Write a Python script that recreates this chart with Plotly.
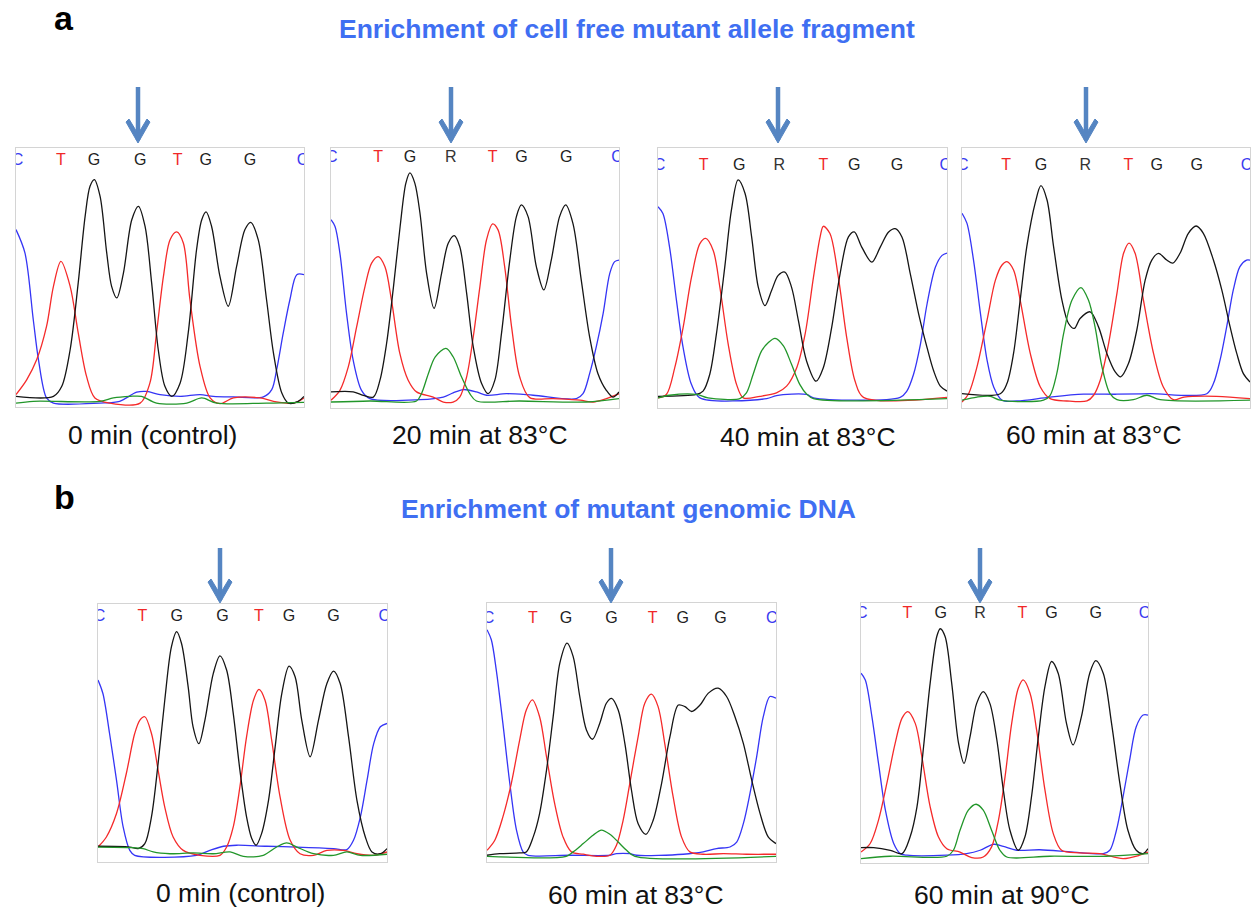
import plotly.graph_objects as go

W, H = 1253, 913

# ---------------- data (x: position across window 0-100, y: signal 0-100) ----------------
A1_BLUE = [(0,68.5),(3.1,59.5),(6.0,33.7),(7.8,18.3),(10.6,3.5),(13,1.5),(29,1.5),(36,2.2),(41.9,5.7),(45.4,6),(50,4.8),(57,4.1),(63.9,4.8),(68.5,4.1),(75.5,3.9),(85.9,3.9),(88.8,6.7),(90.5,14.4),(92.8,28.6),(95.1,41.4),(97.5,51.1),(100,51.1)]
A1_RED = [(0,4.8),(3.7,10.5),(7.2,18.3),(10.6,31.1),(13,46.6),(15.6,56.2),(18.8,46.6),(21.6,28.6),(24.5,11.8),(27.4,3.5),(32.6,1.5),(43.1,1.5),(46.5,9.3),(48.8,28.6),(51.2,50.5),(53.5,64.6),(55.8,67.6),(58.1,63.3),(60.4,41.4),(63.9,15.7),(67.4,3.5),(70.8,1.3),(75.5,3.5),(84.7,3.5),(89.4,2.2),(96.3,1.5),(100,3.5)]
A1_BLACK = [(0,4.1),(13,4.1),(15.9,8),(18.8,22.1),(21.6,47.9),(24,73.6),(25.7,85.2),(27.2,87.8),(29.2,81.3),(31.5,59.5),(33.2,46.6),(35,42.1),(37.3,51.7),(40.2,72.3),(42.5,77.5),(44.8,69.8),(47.1,47.9),(49.4,22.1),(51.7,8),(54.1,4.1),(57,9.3),(59.8,28.6),(62.7,60.8),(64.5,72.3),(66,75.3),(67.9,69.8),(70.8,50.5),(73.7,38.9),(76.6,54.3),(79.5,68.5),(81.5,71.3),(84.1,64.6),(87,41.4),(89.4,20.8),(92.3,5.4),(94.6,1.5),(98,2.2),(100,4.1)]
A1_GREEN = [(0,1.5),(6,2.2),(29.2,2.2),(33.8,3.5),(39.6,4.1),(43.6,4.1),(48.8,1.5),(59.3,1.5),(64.5,3.5),(69.7,1.5),(87,1.5),(100,1.8)]

A2_BLUE = [(0,72.4),(1.4,69.8),(3.1,59.5),(5.4,36.4),(7.7,18.4),(10.6,6.8),(13.5,3.6),(30.9,3.2),(39,4.2),(42.4,5.8),(45.9,7.1),(50.5,6.2),(54,4.9),(60.9,5.5),(70.2,4.9),(85.2,3.6),(87.5,5.5),(89.8,13.2),(92.1,23.5),(94.5,36.4),(96.8,51.8),(98.5,56.3),(100,56.9)]
A2_RED = [(0,3),(3.1,6.8),(6,15.8),(8.9,31.2),(11.8,46.7),(14.1,55.7),(16.4,58.2),(18.7,54.4),(21,41.5),(23.9,21),(26.8,10.7),(29.7,6.2),(35.5,4.2),(39,2.3),(42.4,2.3),(44.7,4.2),(47.1,12),(49.4,27.4),(51.7,46.7),(54,64.7),(56.1,70.8),(58,68.5),(60.3,54.4),(62.7,31.2),(65.5,12),(69,4),(77.1,3.6),(86.4,3),(91,2.3),(95.6,3.6),(100,5.5)]
A2_BLACK = [(0,6.2),(7.7,6.2),(11.2,4.9),(14.7,4.2),(17,10.7),(19.3,24.8),(21.7,46.7),(24,69.8),(26,86.5),(27.4,90.4),(29.1,86.5),(30.9,74.9),(33.2,51.8),(35.8,38.3),(38.4,51.8),(40.7,63.4),(42.8,66.3),(44.7,62.1),(47.1,44.1),(49.4,23.5),(52.3,9.4),(54.6,5.5),(56.9,10.7),(59.2,28.7),(62.1,57),(64.4,73.7),(66.1,78.1),(68.4,73.7),(71.3,54.4),(73.9,45.4),(76.5,57),(79.4,73.7),(81.5,78.1),(84,71),(86.9,49.2),(89.8,27.4),(92.7,13.2),(95.6,6.8),(97.9,4.2),(100,6.2)]
A2_GREEN = [(0,2.3),(13.5,2.7),(29.7,2.7),(31.4,5.5),(33.8,13.2),(36.2,19.7),(39.9,22.9),(42.4,19.7),(45.3,12),(48.2,5.5),(50.5,2.7),(65.5,2.7),(88.7,2.3),(100,3.6)]

A3_BLUE = [(0,77.4),(1.7,74.8),(4,61.9),(6.4,41.3),(8.7,23.2),(11.6,9),(14.5,3.9),(37.6,3.6),(41,4.8),(51.4,5.2),(53.8,3.9),(83.8,4.1),(86.1,6.5),(88.4,12.9),(90.8,24.5),(93.1,40),(96,54.2),(98.3,58.7),(100,59.6)]
A3_RED = [(0,3.9),(2.9,5.2),(5.8,15.5),(8.7,31),(11.6,50.3),(14.5,63.2),(16.5,65.2),(19.1,60.6),(21.4,46.5),(24.3,24.5),(27.2,9),(29.5,3.9),(35.3,4.5),(41,5.8),(44.5,8.4),(48,15.5),(50.9,28.4),(53.8,50.3),(56.1,65.8),(57.2,69.9),(59.5,67.1),(62.4,50.3),(65.3,27.1),(68.2,10.3),(71.1,4.1),(100,4.1)]
A3_BLACK = [(0,4.5),(13.3,5.2),(15.6,6.5),(17.9,12.9),(20.2,28.4),(23.1,54.2),(25.4,76.1),(27.7,87.7),(30.1,82.6),(32.4,65.8),(34.7,46.5),(37,39.4),(39.3,45.2),(41.6,51),(43.9,52.3),(46.2,46.5),(48.6,33.5),(51.4,18.1),(54.7,10.3),(57.2,15.5),(60.1,31),(63,51.6),(65.9,65.8),(67.9,67.7),(70.5,61.9),(74,56.1),(76.9,61.9),(79.8,67.7),(82.1,69),(84.4,65.8),(87.3,51.6),(90.2,36.1),(93.1,23.2),(95.4,14.2),(97.7,8.4),(100,6.5)]
A3_GREEN = [(0,3.9),(4,4.9),(13.3,5.2),(17.3,3.9),(28.3,3.6),(30.6,5.8),(32.9,12.9),(35.8,21.9),(38.2,25.2),(40.5,26.8),(43.4,23.9),(46.2,16.8),(49.1,9),(51.4,5.4),(53.8,3.6),(100,3.6)]

A4_BLUE = [(0,74.9),(1.7,71.1),(4,56.9),(6.4,36.4),(8.7,18.4),(11,8.1),(13.9,3),(19.1,2.7),(30.6,4.2),(42.2,5.3),(53.8,5.3),(65.3,5.5),(85,5.5),(87.3,9.4),(89.6,18.4),(91.9,31.2),(94.2,45.4),(96.5,54.4),(98.8,56.9),(100,56.9)]
A4_RED = [(0,2.3),(2.3,5.5),(5.2,15.8),(8.7,33.8),(11.6,49.2),(13.9,55),(15.6,56.3),(17.9,53.1),(20.2,41.5),(23.7,21),(27.2,8.1),(30.6,3.6),(36.4,2.7),(43.4,2.7),(45.7,4.9),(48,10.7),(50.9,24.8),(53.8,44.1),(56.1,59.5),(58,63.4),(60.1,59.5),(63,41.5),(66.5,21),(69.9,8.1),(73.4,3.2),(77.1,4.2),(88.4,4.5),(100,3.6)]
A4_BLACK = [(0,5.5),(13.3,5.5),(15.6,9.4),(17.9,21),(20.2,41.5),(22.5,62.1),(25.4,78.8),(27.4,85.5),(29.5,80.1),(31.8,62.1),(34.7,41.5),(37,32.5),(39,30.6),(41,34.4),(44.5,37),(47.4,31.2),(50.3,21),(53.2,13.9),(55.1,12),(57.8,17.1),(60.7,30),(63.6,49.2),(65.9,56.9),(68.2,59.5),(71.1,56.9),(73.2,55.7),(75.7,59.5),(78.6,67.2),(81.3,70),(83.8,67.2),(87.3,56.9),(90.2,45.4),(93.1,31.2),(95.4,21),(97.7,13.2),(100,10)]
A4_GREEN = [(0,3),(5.2,4.2),(9.8,4.5),(13.3,3),(28.3,3),(30.6,4.9),(32.9,13.2),(35.3,28.7),(38.2,41.5),(41.3,46.3),(43.9,41.5),(46.2,31.2),(48.6,15.8),(51.4,5.5),(53.8,3.2),(59.5,3.2),(64.2,4.9),(68.8,3.2),(100,3)]

B1_BLUE = [(0,70.5),(1.7,65.3),(4,49.8),(6.4,31.7),(8.7,13.6),(11,4.5),(12.7,2.6),(34.1,2.6),(38.7,4.5),(43.4,6.1),(48,6.5),(58.4,6.1),(68.8,5.8),(81.5,5.2),(86.1,4.8),(88.4,8.4),(90.8,17.5),(93.1,31.7),(95.4,45.9),(97.7,52.4),(100,53.7)]
B1_RED = [(0,5.8),(2.9,9.7),(6.4,18.8),(9.8,34.3),(12.7,49.8),(14.5,55),(16.2,56.3),(18.5,49.8),(20.8,35.6),(23.1,21.3),(26,9.7),(29.5,4.5),(35.3,2.6),(42.2,2.6),(44.5,5.8),(46.8,13.6),(49.1,29.1),(51.4,48.5),(53.8,62.7),(55.7,66.9),(57.8,62.7),(60.1,47.2),(63,25.2),(66.5,8.4),(69.9,3.2),(74.6,2.6),(79.2,4.5),(84.9,4.5),(89.6,3.2),(95.4,2.6),(100,3.9)]
B1_BLACK = [(0,6.1),(11,5.8),(13.9,5.2),(16.2,7.1),(18.5,17.5),(20.8,38.2),(23.1,62.7),(25.4,83.4),(27.2,89.3),(28.9,84.7),(31.2,67.9),(32.9,52.4),(34.9,45.9),(37,55),(39.9,73.1),(42.2,79.9),(44.5,74.4),(46.8,57.6),(49.1,35.6),(51.4,17.5),(53.2,9.1),(54.7,6.5),(56.6,11),(59,23.9),(61.3,44.6),(63.6,65.3),(66.1,75.9),(68.2,71.8),(70.5,55),(73.4,40.8),(76.3,55),(79.2,69.2),(81.5,74),(83.8,69.2),(86.7,48.5),(89.6,23.9),(92.5,9.7),(94.8,3.9),(97.7,3.2),(100,5.2)]
B1_GREEN = [(0,5.8),(11,5.6),(15.6,5.2),(19.1,3.9),(24.9,3.2),(32.9,3.5),(39.9,3.2),(45.7,3.9),(50.3,2.2),(57.2,2.6),(61.8,5.8),(65.3,7.4),(68.8,5.8),(74.6,3.2),(81.5,2.6),(86.1,3.9),(90.8,2.6),(100,3)]

B2_BLUE = [(0,89.7),(1.5,85.8),(3.2,74.2),(5.5,53.5),(7.9,30.3),(10.2,12.3),(12.5,3.9),(14.2,2.6),(28.6,2.6),(42.5,2.6),(44.8,3.2),(49.4,3.2),(51.7,2.6),(67.9,3),(74.8,3.9),(79.4,5.2),(84.1,5.8),(86.4,7.7),(88.7,14.8),(91,26.5),(93.3,40.6),(95.6,56.1),(97.9,63.9),(100,63.2)]
B2_RED = [(0,4.5),(2.7,8.4),(5.5,17.4),(8.4,30.3),(11.3,47.1),(13.6,58.7),(15.7,62.6),(18.2,56.1),(20.6,40.6),(23.4,22.6),(26.3,9.7),(29.2,3.9),(33.3,3),(37.9,2.2),(42.5,2.6),(44.8,6.5),(47.1,16.1),(49.4,30.3),(52.3,48.4),(54.6,61.3),(56.9,64.8),(59.2,60),(61.5,45.8),(64.4,25.2),(67.3,9.7),(70.2,3.9),(74.8,3),(81.8,3.2),(89.8,3),(100,3)]
B2_BLACK = [(0,2.6),(4.4,3.2),(11.3,3.5),(13.6,3.9),(16,9.7),(18.2,18.7),(20.6,35.5),(22.9,56.1),(25.2,76.8),(27.7,84.5),(29.8,79.4),(32.1,63.9),(34.4,51),(36.5,47.4),(39,53.5),(41.3,61.3),(43.1,63.2),(45.4,58.7),(47.7,45.8),(50,27.7),(52.3,14.8),(55,10.7),(57.5,16.1),(60.4,30.3),(63.3,48.4),(66.2,60.6),(68.5,60),(70.8,58.1),(73.7,60.6),(76.6,65.2),(80,67.1),(82.9,63.9),(85.8,56.1),(88.7,45.8),(91.6,31.6),(94.5,18.7),(97.3,9.7),(100,7.1)]
B2_GREEN = [(0,2.2),(27.4,2.2),(29.8,3.9),(33.3,7.1),(36.7,10.3),(39.6,12.3),(42.5,10.7),(45.4,7.7),(48.3,4.5),(51.2,2.2),(100,2.2)]

B3_BLUE = [(0,73),(1.5,70.4),(3.8,56.3),(6.1,38.3),(8.5,20.3),(11.4,7.5),(13.7,3.6),(16,3),(29.9,3),(36.8,3.6),(41.5,4.9),(46.1,7.2),(49.6,6.4),(54.2,4.9),(62.3,5.1),(73.9,4.2),(84.4,3.6),(86.7,4.9),(89,12.6),(91.3,25.4),(93.6,39.6),(95.9,52.4),(98.3,56.9),(100,56.9)]
B3_RED = [(0,4.2),(3.2,7.5),(6.1,16.5),(9,30.6),(11.9,46),(14.3,55.7),(16.3,58.2),(18.9,53.7),(21.2,40.9),(24.1,21.6),(27,10),(29.9,5.5),(34.5,4.2),(38.6,2.1),(42.6,2.3),(45.5,6.2),(47.9,16.5),(50.2,33.2),(52.5,53.7),(54.8,67.2),(56.5,70.4),(58.9,65.3),(61.2,51.1),(64.1,28),(67,11.3),(69.9,4.9),(76.2,3.9),(83.2,3.6),(91.3,1.7),(97.1,3),(100,4.2)]
B3_BLACK = [(0,5.9),(4.4,5.9),(10.2,4.9),(14.3,3.6),(17.1,10),(19.5,21.6),(21.8,44.7),(24.1,69.2),(26.4,87.1),(27.6,90.1),(29.3,87.1),(31.6,69.2),(34,46),(35.9,38.3),(38,48.6),(40.3,61.4),(42.6,65.9),(44.9,61.4),(47.3,47.6),(49.6,28),(51.9,12.6),(54.8,4.9),(57.1,10),(59.4,25.4),(61.8,48.6),(64.1,67.9),(66.4,77.5),(68.7,73),(71.6,53.7),(73.9,45.4),(76.8,56.3),(79.7,73),(81.8,77.8),(84.4,73),(87.3,53.7),(90.2,30.6),(93,12.6),(95.9,4.9),(98.3,3.6),(100,5.5)]
B3_GREEN = [(0,1.7),(10.2,2.6),(29.9,2.6),(32.2,4.9),(34.5,12.6),(37.4,20.3),(40.1,22.6),(42.6,20.3),(45.5,12.6),(48.4,4.9),(50.8,2.3),(65.8,2.6),(85.5,2.6),(100,3.6)]

BASES_CONTROL = ["C", "T", "G", "G", "T", "G", "G", "C"]
BASES_MIXED = ["C", "T", "G", "R", "T", "G", "G", "C"]
POS_A1 = [0.5, 15.6, 27.1, 43.1, 56.1, 65.9, 81.2, 99.5]
POS_A2 = [0.3, 16.4, 27.4, 41.6, 56.1, 66.1, 81.7, 99.3]
POS_A3 = [0.5, 15.8, 28.1, 42.0, 57.2, 67.9, 82.7, 99.4]
POS_A4 = [0.3, 15.3, 27.4, 42.8, 57.8, 67.6, 81.5, 98.8]
POS_B1 = [0.5, 15.4, 27.2, 43.1, 55.7, 66.1, 81.5, 99.1]
POS_B2 = [0.5, 15.9, 27.3, 43.1, 57.3, 67.7, 80.8, 98.5]
POS_B3 = [0.3, 16.2, 27.8, 41.5, 56.2, 66.4, 81.8, 98.8]

CAPTIONS_A = ["0 min (control)", "20 min at 83°C", "40 min at 83°C", "60 min at 83°C"]
CAPTIONS_B = ["0 min (control)", "60 min at 83°C", "60 min at 90°C"]
TITLE_A = "Enrichment of cell free mutant allele fragment"
TITLE_B = "Enrichment of mutant genomic DNA"

# ---------------- styling / layout ----------------
COL = {"blue": "#3535f5", "red": "#f52a2a", "black": "#151515", "green": "#22962a"}
BASE_COL = {"C": "#3a3af0", "T": "#f02828", "G": "#222222", "R": "#333333"}
FONT = "Liberation Sans, Arial, Helvetica, sans-serif"
ARROW_COL = "#5585c2"

# panel boxes in pixels: (x0, y0, x1, y1), label row y (data units), caption (cx, cy), arrow x
PANELS = [
    dict(box=(16, 148, 304, 407), traces=(A1_BLUE, A1_RED, A1_BLACK, A1_GREEN), bases=BASES_CONTROL, pos=POS_A1, ly=94.9, cap=CAPTIONS_A[0], cxy=(152, 435), ax=138, ay=(87, 143)),
    dict(box=(331, 148, 619, 408), traces=(A2_BLUE, A2_RED, A2_BLACK, A2_GREEN), bases=BASES_MIXED, pos=POS_A2, ly=96.1, cap=CAPTIONS_A[1], cxy=(480, 435), ax=451, ay=(87, 143)),
    dict(box=(658, 148, 947, 408), traces=(A3_BLUE, A3_RED, A3_BLACK, A3_GREEN), bases=BASES_MIXED, pos=POS_A3, ly=92.9, cap=CAPTIONS_A[2], cxy=(808, 437), ax=778, ay=(87, 143)),
    dict(box=(962, 148, 1250, 408), traces=(A4_BLUE, A4_RED, A4_BLACK, A4_GREEN), bases=BASES_MIXED, pos=POS_A4, ly=93.2, cap=CAPTIONS_A[3], cxy=(1094, 435), ax=1086, ay=(87, 143)),
    dict(box=(98, 604, 387, 862), traces=(B1_BLUE, B1_RED, B1_BLACK, B1_GREEN), bases=BASES_CONTROL, pos=POS_B1, ly=95.1, cap=CAPTIONS_B[0], cxy=(240, 893), ax=220, ay=(548, 603)),
    dict(box=(487, 603, 776, 862), traces=(B2_BLUE, B2_RED, B2_BLACK, B2_GREEN), bases=BASES_CONTROL, pos=POS_B2, ly=93.8, cap=CAPTIONS_B[1], cxy=(636, 895), ax=611, ay=(548, 603)),
    dict(box=(861, 603, 1148, 863), traces=(B3_BLUE, B3_RED, B3_BLACK, B3_GREEN), bases=BASES_MIXED, pos=POS_B3, ly=95.9, cap=CAPTIONS_B[2], cxy=(1002, 895), ax=980, ay=(548, 603)),
]


def px(x):
    return x / W


def py(y):
    return 1 - y / H


fig = go.Figure()
layout = dict(
    width=W, height=H, margin=dict(l=0, r=0, t=0, b=0),
    paper_bgcolor="white", plot_bgcolor="white", showlegend=False,
    font=dict(family=FONT),
)
shapes = []
annotations = []

for i, p in enumerate(PANELS):
    n = "" if i == 0 else str(i + 1)
    xa, ya = "x" + n, "y" + n
    x0, y0, x1, y1 = p["box"]
    layout["xaxis" + n] = dict(domain=[px(x0), px(x1)], range=[0, 100], showgrid=False, zeroline=False,
                               showticklabels=False, ticks="", showline=True, mirror=True,
                               linecolor="#d4d4d4", linewidth=1, anchor=ya, fixedrange=True)
    layout["yaxis" + n] = dict(domain=[py(y1), py(y0)], range=[0, 100], showgrid=False, zeroline=False,
                               showticklabels=False, ticks="", showline=True, mirror=True,
                               linecolor="#d4d4d4", linewidth=1, anchor=xa, fixedrange=True)
    for pts, cname in zip(p["traces"], ["blue", "red", "black", "green"]):
        fig.add_trace(go.Scatter(
            x=[a for a, b in pts], y=[b for a, b in pts], mode="lines",
            line=dict(color=COL[cname], width=1.3, shape="spline", smoothing=0.9),
            xaxis=xa, yaxis=ya, hoverinfo="skip", cliponaxis=True))
    fig.add_trace(go.Scatter(
        x=p["pos"], y=[p["ly"]] * len(p["pos"]), mode="text", text=p["bases"],
        textfont=dict(family=FONT, size=16, color=[BASE_COL[b] for b in p["bases"]]),
        textposition="middle center", xaxis=xa, yaxis=ya, hoverinfo="skip", cliponaxis=True))
    cx, cy = p["cxy"]
    annotations.append(dict(x=px(cx), y=py(cy), xref="paper", yref="paper", text=p["cap"],
                            showarrow=False, xanchor="center", yanchor="middle", borderpad=0,
                            font=dict(family=FONT, size=26.5, color="#111111")))
    # arrow: shaft + chevron head
    ax = p["ax"]
    top, tip = p["ay"]
    shapes.append(dict(type="line", xref="paper", yref="paper", x0=px(ax), x1=px(ax),
                       y0=py(top), y1=py(tip - 3), line=dict(color=ARROW_COL, width=4.5)))
    head = [(ax, tip), (ax + 12, tip - 21), (ax + 9, tip - 24), (ax, tip - 9),
            (ax - 9, tip - 24), (ax - 12, tip - 21)]
    path = "M " + " L ".join(f"{px(hx):.5f},{py(hy):.5f}" for hx, hy in head) + " Z"
    shapes.append(dict(type="path", xref="paper", yref="paper", path=path,
                       fillcolor=ARROW_COL, line=dict(color=ARROW_COL, width=1)))

# titles and panel letters
annotations += [
    dict(x=px(627), y=py(29), xref="paper", yref="paper", text=f"<b>{TITLE_A}</b>", showarrow=False,
         xanchor="center", yanchor="middle", font=dict(family=FONT, size=26.5, color="#3f6ff2")),
    dict(x=px(628), y=py(509), xref="paper", yref="paper", text=f"<b>{TITLE_B}</b>", showarrow=False,
         xanchor="center", yanchor="middle", font=dict(family=FONT, size=26.5, color="#3f6ff2")),
    dict(x=px(64), y=py(18), xref="paper", yref="paper", text="<b>a</b>", showarrow=False,
         xanchor="center", yanchor="middle", font=dict(family=FONT, size=34, color="black")),
    dict(x=px(64), y=py(497), xref="paper", yref="paper", text="<b>b</b>", showarrow=False,
         xanchor="center", yanchor="middle", font=dict(family=FONT, size=34, color="black")),
]

layout["shapes"] = shapes
layout["annotations"] = annotations
fig.update_layout(**layout)
fig.write_html("out.html")
